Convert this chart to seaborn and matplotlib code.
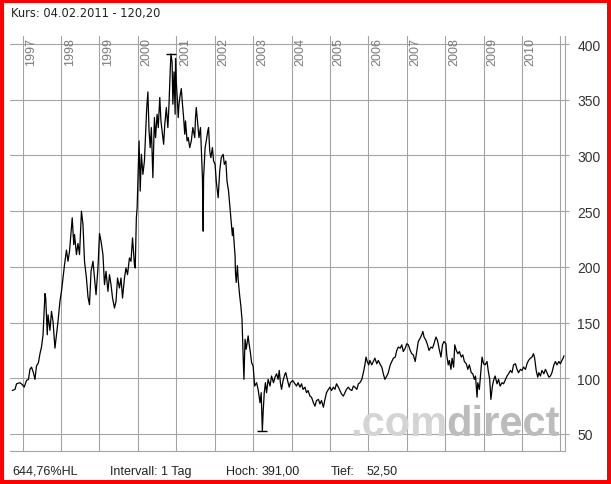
import matplotlib
matplotlib.use("Agg")
import matplotlib.pyplot as plt
import pandas as pd
import seaborn as sns

# Kursverlauf (Datum als Dezimaljahr)
dates = [
    1996.73, 1996.80, 1996.84, 1996.93, 1997.00, 1997.04, 1997.10, 1997.15, 1997.19, 1997.23,
    1997.28, 1997.32, 1997.36, 1997.41, 1997.45, 1997.49, 1997.53, 1997.58, 1997.60, 1997.64,
    1997.66, 1997.71, 1997.75, 1997.79, 1997.84, 1997.88, 1997.92, 1997.97, 1998.01, 1998.05,
    1998.09, 1998.14, 1998.18, 1998.22, 1998.27, 1998.29, 1998.33, 1998.35, 1998.40, 1998.44,
    1998.48, 1998.53, 1998.57, 1998.61, 1998.66, 1998.70, 1998.74, 1998.78, 1998.83, 1998.87,
    1998.91, 1998.96, 1999.00, 1999.04, 1999.09, 1999.13, 1999.17, 1999.22, 1999.26, 1999.30,
    1999.34, 1999.39, 1999.43, 1999.47, 1999.52, 1999.56, 1999.60, 1999.65, 1999.69, 1999.73,
    1999.78, 1999.82, 1999.86, 1999.91, 1999.93, 1999.96, 1999.98,
    2000.03, 2000.06, 2000.09, 2000.13, 2000.17, 2000.20, 2000.23, 2000.26, 2000.29, 2000.32,
    2000.35, 2000.37, 2000.39, 2000.43, 2000.46, 2000.50, 2000.53, 2000.57, 2000.60, 2000.63,
    2000.67, 2000.70, 2000.74, 2000.78, 2000.81, 2000.84, 2000.86, 2000.89, 2000.91, 2000.94,
    2000.97, 2000.98, 2001.00, 2001.03, 2001.05, 2001.07, 2001.10, 2001.13, 2001.16, 2001.19,
    2001.22, 2001.24, 2001.28, 2001.31, 2001.35, 2001.39, 2001.43, 2001.48, 2001.50, 2001.52,
    2001.56, 2001.59, 2001.63, 2001.65, 2001.68, 2001.70, 2001.71, 2001.75, 2001.78, 2001.82,
    2001.84, 2001.87, 2001.90, 2001.94, 2001.97, 2002.01, 2002.04, 2002.09, 2002.13, 2002.17,
    2002.22, 2002.25, 2002.29, 2002.32, 2002.36, 2002.39, 2002.43, 2002.46, 2002.48, 2002.51,
    2002.53, 2002.54, 2002.56, 2002.59, 2002.61, 2002.65, 2002.68, 2002.71, 2002.74, 2002.76,
    2002.79, 2002.82, 2002.87, 2002.89, 2002.93, 2002.96, 2003.00, 2003.04, 2003.09, 2003.13,
    2003.18, 2003.21, 2003.24, 2003.26, 2003.29, 2003.32, 2003.35, 2003.39, 2003.44, 2003.48,
    2003.53, 2003.57, 2003.61, 2003.65, 2003.68, 2003.71, 2003.74, 2003.78, 2003.83, 2003.85,
    2003.89, 2003.94, 2003.97, 2004.03, 2004.09, 2004.13, 2004.17, 2004.22, 2004.26, 2004.30,
    2004.35, 2004.39, 2004.43, 2004.48, 2004.52, 2004.57, 2004.61, 2004.65, 2004.70, 2004.74,
    2004.78, 2004.83, 2004.87, 2004.91, 2004.96, 2005.00, 2005.04, 2005.09, 2005.13, 2005.17,
    2005.22, 2005.26, 2005.30, 2005.35, 2005.39, 2005.43, 2005.48, 2005.52, 2005.57, 2005.61,
    2005.65, 2005.70, 2005.74, 2005.78, 2005.83, 2005.87, 2005.91, 2005.94, 2005.97, 2006.01,
    2006.04, 2006.09, 2006.13, 2006.17, 2006.22, 2006.26, 2006.30, 2006.35, 2006.39, 2006.43,
    2006.48, 2006.52, 2006.57, 2006.61, 2006.65, 2006.70, 2006.74, 2006.78, 2006.83, 2006.87,
    2006.91, 2006.96, 2007.00, 2007.04, 2007.09, 2007.13, 2007.17, 2007.22, 2007.26, 2007.30,
    2007.35, 2007.39, 2007.42, 2007.45, 2007.50, 2007.54, 2007.58, 2007.63, 2007.67, 2007.71,
    2007.76, 2007.80, 2007.84, 2007.89, 2007.93, 2007.97, 2008.02, 2008.04, 2008.08, 2008.11,
    2008.15, 2008.18, 2008.22, 2008.25, 2008.29, 2008.33, 2008.37, 2008.42, 2008.46, 2008.50,
    2008.55, 2008.59, 2008.63, 2008.68, 2008.72, 2008.76, 2008.79, 2008.83, 2008.85, 2008.89,
    2008.92, 2008.96, 2009.00, 2009.04, 2009.09, 2009.12, 2009.16, 2009.19, 2009.23, 2009.26,
    2009.30, 2009.35, 2009.39, 2009.43, 2009.48, 2009.52, 2009.57, 2009.61, 2009.65, 2009.70,
    2009.74, 2009.78, 2009.83, 2009.87, 2009.91, 2009.96, 2010.00, 2010.04, 2010.09, 2010.13,
    2010.17, 2010.22, 2010.26, 2010.30, 2010.33, 2010.37, 2010.41, 2010.44, 2010.48, 2010.52,
    2010.57, 2010.61, 2010.65, 2010.70, 2010.74, 2010.78, 2010.83, 2010.87, 2010.91, 2010.96,
    2011.00, 2011.04, 2011.07, 2011.095,
]
prices = [
    89, 90, 95, 96, 94, 92, 98, 99, 108, 110,
    105, 99, 111, 114, 122, 128, 139, 176, 172, 139,
    157, 143, 160, 151, 127, 139, 151, 169, 178, 190,
    202, 215, 205, 214, 235, 244, 220, 229, 211, 221,
    211, 250, 238, 205, 190, 173, 166, 196, 205, 190,
    175, 199, 230, 223, 211, 184, 196, 178, 193, 184,
    172, 163, 169, 190, 181, 190, 172, 190, 199, 193,
    208, 205, 226, 202, 199, 244, 253,
    313, 268, 301, 283, 295, 319, 343, 357, 322, 307,
    325, 301, 280, 334, 316, 337, 325, 352, 331, 322,
    310, 328, 343, 325, 346, 375, 391, 384, 346, 375,
    337, 387, 366, 348, 334, 346, 354, 360, 346, 334,
    319, 331, 313, 316, 307, 313, 325, 316, 334, 343,
    328, 316, 325, 307, 280, 232, 280, 307, 313, 322,
    325, 304, 298, 307, 295, 292, 277, 262, 286, 298,
    301, 292, 295, 277, 268, 256, 241, 228, 235, 219,
    210, 195, 186, 201, 189, 174, 165, 153, 120, 99,
    135, 126, 138, 132, 123, 114, 111, 93, 96, 90,
    78, 87, 52.5, 69, 87, 96, 87, 99, 93, 102,
    96, 101, 104, 99, 107, 96, 90, 98, 104, 105,
    99, 92, 96, 98, 95, 93, 96, 92, 95, 90,
    92, 87, 89, 84, 83, 78, 75, 80, 81, 77,
    80, 74, 81, 87, 90, 92, 89, 92, 90, 95,
    92, 89, 86, 84, 87, 90, 92, 90, 89, 93,
    92, 90, 95, 96, 99, 105, 112, 119, 115, 112,
    116, 112, 115, 118, 113, 116, 113, 110, 104, 99,
    102, 105, 112, 115, 118, 119, 125, 128, 127, 130,
    124, 127, 131, 130, 125, 122, 121, 115, 124, 133,
    136, 139, 142, 137, 134, 130, 125, 128, 127, 131,
    137, 134, 127, 119, 130, 133, 131, 121, 112, 116,
    108, 118, 110, 130, 125, 122, 124, 119, 121, 115,
    113, 108, 112, 105, 104, 99, 102, 83, 96, 90,
    102, 119, 113, 112, 115, 107, 99, 81, 93, 98,
    102, 95, 99, 93, 96, 95, 99, 102, 104, 107,
    105, 112, 113, 108, 105, 108, 107, 110, 108, 113,
    116, 118, 119, 122, 118, 107, 101, 105, 102, 107,
    104, 108, 105, 101, 102, 105, 112, 115, 112, 115,
    113, 116, 118, 120.2,
]

years = list(range(1997, 2012))
year_labels = [str(y) for y in range(1997, 2011)]
yticks = [50, 100, 150, 200, 250, 300, 350, 400]

title = "Kurs: 04.02.2011 - 120,20"
footer = [("644,76%HL", 12), ("Intervall: 1 Tag", 110), ("Hoch:", 226), ("391,00", 262),
          ("Tief:", 331), ("52,50", 367)]

W, H = 611, 485
grid_c = "#a4a4a4"

sns.set_theme(style="white")
plt.rcParams['font.family'] = ['Liberation Sans', 'DejaVu Sans']

df = pd.DataFrame({"datum": dates, "kurs": prices})

fig = plt.figure(figsize=(W / 100, H / 100), dpi=100)
fig.patch.set_edgecolor("red")
fig.patch.set_linewidth(4.5)
ax = fig.add_axes([10 / W, (H - 452) / H, (565 - 10) / W, (452 - 37) / H])

sns.lineplot(data=df, x="datum", y="kurs", color="black", lw=0.9,
             estimator=None, sort=False, ax=ax, zorder=3)

# Hoch / Tief Markierungen
i_hi = df["kurs"].idxmax()
i_lo = df["kurs"].idxmin()
for i in (i_hi, i_lo):
    ax.hlines(df["kurs"][i], df["datum"][i] - 0.13, df["datum"][i] + 0.13,
              color="black", lw=1.0, zorder=3)

ax.set_xlim(1996.67, 2011.12)
ax.set_ylim(34.7, 407.2)
ax.set_xticks(years)
ax.set_xticklabels([])
ax.set_yticks(yticks)
ax.yaxis.tick_right()
ax.tick_params(axis="y", length=3, color=grid_c, width=0.8, pad=6,
               labelsize=10, labelcolor="#333333")
ax.tick_params(axis="x", length=0)
ax.set_xlabel("")
ax.set_ylabel("")
ax.grid(True, color=grid_c, lw=0.8)
ax.set_axisbelow(True)
for s in ["left", "top"]:
    ax.spines[s].set_visible(False)
for s in ["right", "bottom"]:
    ax.spines[s].set_color(grid_c)
    ax.spines[s].set_linewidth(0.8)

# Jahreszahlen senkrecht oben
for y, lab in zip(years, year_labels):
    ax.annotate(lab, xy=(y, 1.0), xycoords=("data", "axes fraction"),
                xytext=(2, -1), textcoords="offset points", rotation=90,
                ha="left", va="top", fontsize=9, color="#7a7a7a")

# Wasserzeichen: "direct" rechtsbuendig, ".com" direkt davor
wm_y = (H - 436) / H
t_dir = ax.text(560 / W, wm_y, "direct", transform=fig.transFigure, ha="right",
                va="baseline", fontsize=30, color="#bcbcbc", zorder=1, weight="bold")
bb = t_dir.get_window_extent(renderer=fig.canvas.get_renderer())
ax.text(bb.x0 / W + 1 / W, wm_y, ".com", transform=fig.transFigure, ha="right",
        va="baseline", fontsize=30, color="#d4d4d4", zorder=1, weight="bold")

fig.text(11 / W, 1 - 14 / H, title, ha="left", va="center", fontsize=8.3,
         color="#222222", family=["DejaVu Sans"])
for txt, px in footer:
    fig.text(px / W, 1 - 472 / H, txt, ha="left", va="center", fontsize=9,
             color="#222222")

fig.savefig("out.png", dpi=100, facecolor="white", edgecolor=fig.get_edgecolor())
